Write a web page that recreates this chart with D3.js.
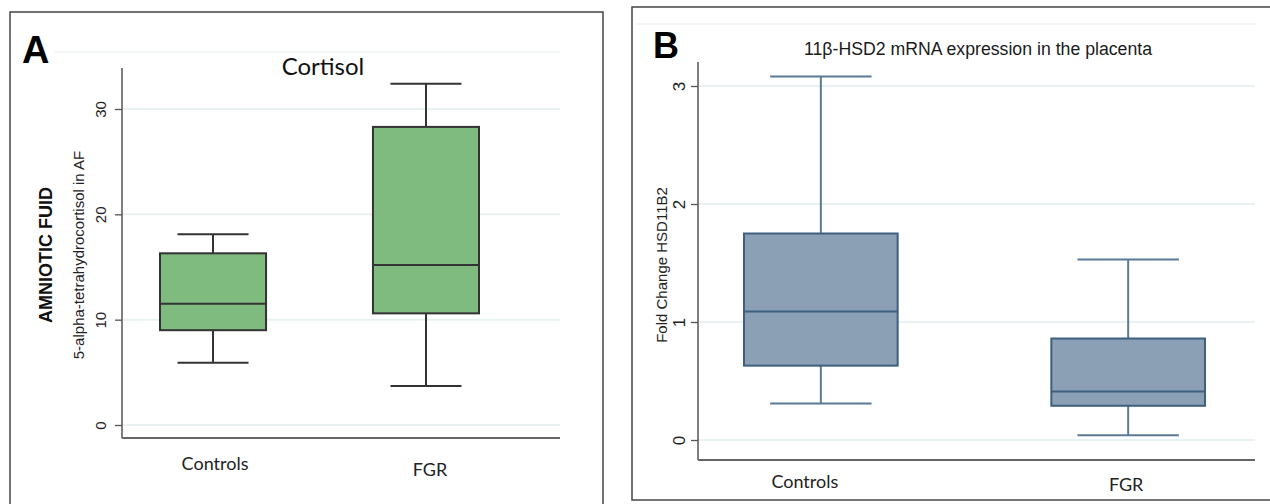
<!DOCTYPE html>
<html lang="en">
<head>
  <meta charset="UTF-8">
  <title>Cortisol / 11β-HSD2 box plots</title>
  <script src="https://cdn.jsdelivr.net/npm/d3@7"></script>
  <style>
    body { margin: 0; background: #fff; }
    svg { display: block; }
  </style>
</head>
<body>
<div id="app"></div>
<script>
// data
const categories = ["Controls", "FGR"];

// panel A: 5-alpha-tetrahydrocortisol in AF
const cortisolLow = [5.9, 3.7];
const cortisolQ1 = [9.0, 10.6];
const cortisolMed = [11.5, 15.2];
const cortisolQ3 = [16.3, 28.3];
const cortisolHigh = [18.1, 32.4];
const cortisolTicks = [0, 10, 20, 30];

// panel B: fold change HSD11B2
const hsdLow = [0.31, 0.04];
const hsdQ1 = [0.63, 0.29];
const hsdMed = [1.09, 0.41];
const hsdQ3 = [1.75, 0.86];
const hsdHigh = [3.08, 1.53];
const hsdTicks = [0, 1, 2, 3];

const zip = (lo, q1, md, q3, hi) => categories.map((c, i) => ({
  cat: c, lo: lo[i], q1: q1[i], med: md[i], q3: q3[i], hi: hi[i]
}));

const svg = d3.select("#app").append("svg")
  .attr("width", 1270)
  .attr("height", 504);

function drawPanel (opt) {
  const g = svg.append("g");

  // panel frame
  g.append("rect")
    .attr("x", opt.frame[0]).attr("y", opt.frame[1])
    .attr("width", opt.frame[2]).attr("height", opt.frame[3])
    .attr("fill", "none").attr("stroke", "#444").attr("stroke-width", 1.5);

  const y = d3.scaleLinear().domain(opt.yDomain).range(opt.yRange);
  // band range = outer edges of the two boxes
  const x = d3.scaleBand().domain(categories)
    .range(opt.boxRange)
    .paddingInner(opt.padInner).paddingOuter(0);

  // faint plot region line
  g.append("line")
    .attr("x1", opt.regionLeft).attr("x2", opt.plotRight)
    .attr("y1", opt.regionTop).attr("y2", opt.regionTop)
    .attr("stroke", "#eef4f3").attr("stroke-width", 1.5);

  // grid
  g.append("g")
    .selectAll("line")
    .data(opt.ticks)
    .enter()
    .append("line")
    .attr("x1", opt.axisX).attr("x2", opt.plotRight)
    .attr("y1", d => y(d)).attr("y2", d => y(d))
    .attr("stroke", "#e9f2f2").attr("stroke-width", 2);

  // y axis
  const yAxisG = g.append("g")
    .attr("transform", `translate(${opt.axisX},0)`)
    .call(d3.axisLeft(y).tickValues(opt.ticks).tickFormat(d3.format("d"))
      .tickSize(7).tickPadding(0).tickSizeOuter(0));
  yAxisG.select(".domain").remove();
  yAxisG.selectAll(".tick line").attr("stroke", "#555").attr("stroke-width", 1.3);
  yAxisG.selectAll(".tick text")
    .attr("transform", "rotate(-90)")
    .attr("x", 0).attr("y", -opt.tickLabelGap)
    .attr("dy", 0)
    .attr("text-anchor", "middle")
    .style("font-family", "Liberation Sans, Arial, sans-serif")
    .style("font-size", opt.tickFont + "px")
    .attr("fill", "#222");

  g.append("line")
    .attr("x1", opt.axisX).attr("x2", opt.axisX)
    .attr("y1", opt.axisTop).attr("y2", opt.axisBottom)
    .attr("stroke", "#555").attr("stroke-width", 1.5);
  g.append("line")
    .attr("x1", opt.axisX).attr("x2", opt.plotRight)
    .attr("y1", opt.axisBottom).attr("y2", opt.axisBottom)
    .attr("stroke", "#666").attr("stroke-width", 2);

  // x labels
  g.append("g")
    .selectAll("text")
    .data(categories)
    .enter()
    .append("text")
    .attr("x", (d, i) => x(d) + x.bandwidth() / 2 + opt.catDx[i])
    .attr("y", (d, i) => opt.catY[i])
    .attr("text-anchor", "middle")
    .style("font-family", "Lato, 'Open Sans', sans-serif")
    .style("font-size", opt.catFont + "px")
    .attr("fill", "#222")
    .text(d => d);

  // boxes
  const box = g.append("g")
    .selectAll("g")
    .data(opt.stats)
    .enter()
    .append("g");
  const cx = d => x(d.cat) + x.bandwidth() / 2;
  const capW = x.bandwidth() * opt.capRatio;

  box.append("line")
    .attr("x1", cx).attr("x2", cx)
    .attr("y1", d => y(d.hi)).attr("y2", d => y(d.q3))
    .attr("stroke", opt.whisker).attr("stroke-width", 2);
  box.append("line")
    .attr("x1", cx).attr("x2", cx)
    .attr("y1", d => y(d.q1)).attr("y2", d => y(d.lo))
    .attr("stroke", opt.whisker).attr("stroke-width", 2);
  box.append("line")
    .attr("x1", d => cx(d) - capW / 2).attr("x2", d => cx(d) + capW / 2)
    .attr("y1", d => y(d.hi)).attr("y2", d => y(d.hi))
    .attr("stroke", opt.whisker).attr("stroke-width", 2);
  box.append("line")
    .attr("x1", d => cx(d) - capW / 2).attr("x2", d => cx(d) + capW / 2)
    .attr("y1", d => y(d.lo)).attr("y2", d => y(d.lo))
    .attr("stroke", opt.whisker).attr("stroke-width", 2);
  box.append("rect")
    .attr("x", d => x(d.cat))
    .attr("y", d => y(d.q3))
    .attr("width", x.bandwidth())
    .attr("height", d => y(d.q1) - y(d.q3))
    .attr("fill", opt.fill).attr("stroke", opt.stroke).attr("stroke-width", 2);
  box.append("line")
    .attr("x1", d => x(d.cat)).attr("x2", d => x(d.cat) + x.bandwidth())
    .attr("y1", d => y(d.med)).attr("y2", d => y(d.med))
    .attr("stroke", opt.stroke).attr("stroke-width", 2);

  return g;
}

// Panel A
const gA = drawPanel({
  frame: [10, 12, 593, 500],
  yDomain: [0, 30], yRange: [425, 109],
  boxRange: [160, 479], padInner: 0.502,
  axisX: 122, axisTop: 68, axisBottom: 438, plotRight: 560,
  regionLeft: 55, regionTop: 52,
  ticks: cortisolTicks, tickFont: 15, tickLabelGap: 16,
  catY: [470, 476], catDx: [2, 4], catFont: 18,
  stats: zip(cortisolLow, cortisolQ1, cortisolMed, cortisolQ3, cortisolHigh),
  fill: "#7fba7e", stroke: "#333", whisker: "#333", capRatio: 0.67
});
gA.append("text").attr("x", 22).attr("y", 63)
  .style("font-family", "Liberation Sans, Arial, sans-serif")
  .style("font-size", "38px").style("font-weight", "bold").text("A");
gA.append("text").attr("x", 323).attr("y", 75).attr("text-anchor", "middle")
  .style("font-family", "Lato, 'Open Sans', sans-serif")
  .style("font-size", "24px").attr("fill", "#111").text("Cortisol");
gA.append("text").attr("transform", "translate(84,255) rotate(-90)").attr("text-anchor", "middle")
  .style("font-family", "Liberation Sans, Arial, sans-serif")
  .style("font-size", "15px").attr("fill", "#222").text("5-alpha-tetrahydrocortisol in AF");
gA.append("text").attr("transform", "translate(52,255) rotate(-90)").attr("text-anchor", "middle")
  .style("font-family", "Liberation Sans, Arial, sans-serif")
  .style("font-size", "18px").style("font-weight", "bold").attr("fill", "#111").text("AMNIOTIC FUID");

// Panel B
const gB = drawPanel({
  frame: [632, 7, 640, 493],
  yDomain: [0, 3], yRange: [440, 86],
  boxRange: [744, 1205], padInner: 0.5,
  axisX: 698, axisTop: 62, axisBottom: 460, plotRight: 1255,
  regionLeft: 636, regionTop: 24,
  ticks: hsdTicks, tickFont: 17, tickLabelGap: 13,
  catY: [488, 491], catDx: [-16, -2], catFont: 18,
  stats: zip(hsdLow, hsdQ1, hsdMed, hsdQ3, hsdHigh),
  fill: "#8ba0b4", stroke: "#3e5f80", whisker: "#5b7a99", capRatio: 0.66
});
gB.append("text").attr("x", 653).attr("y", 58)
  .style("font-family", "Liberation Sans, Arial, sans-serif")
  .style("font-size", "36px").style("font-weight", "bold").text("B");
gB.append("text").attr("x", 978).attr("y", 55).attr("text-anchor", "middle")
  .style("font-family", "Liberation Sans, Arial, sans-serif")
  .style("font-size", "18px").attr("fill", "#1a1a1a")
  .attr("textLength", 348).attr("lengthAdjust", "spacingAndGlyphs")
  .text("11β-HSD2 mRNA expression in the placenta");
gB.append("text").attr("transform", "translate(667,265) rotate(-90)").attr("text-anchor", "middle")
  .style("font-family", "Liberation Sans, Arial, sans-serif")
  .style("font-size", "15px").attr("fill", "#222").text("Fold Change HSD11B2");
</script>
</body>
</html>
